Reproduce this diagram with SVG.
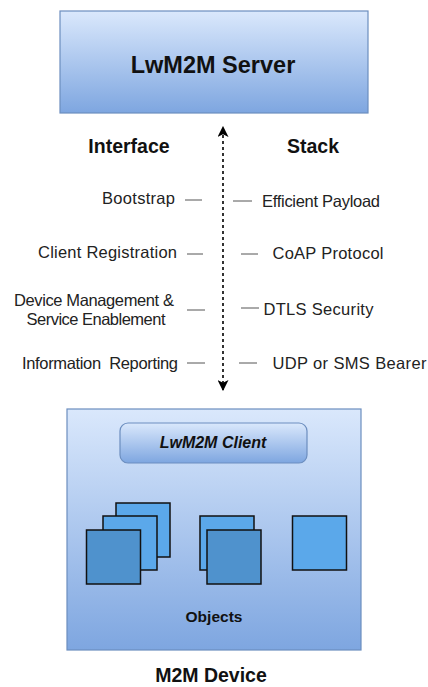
<svg xmlns="http://www.w3.org/2000/svg" width="428" height="687" viewBox="0 0 428 687">
<defs>
<linearGradient id="g" x1="0" y1="0" x2="0" y2="1">
<stop offset="0" stop-color="#dae8fc"/>
<stop offset="1" stop-color="#7ea6e0"/>
</linearGradient>
<marker id="ah" viewBox="0 0 10 10" refX="9" refY="5" markerWidth="11" markerHeight="11" markerUnits="userSpaceOnUse" orient="auto-start-reverse">
<path d="M0,0 L10,5 L0,10 L2.5,5 Z" fill="#000"/>
</marker>
<style>
.box{fill:url(#g);stroke:#6c8ebf;stroke-width:1.2}
.t{font-family:"Liberation Sans",Arial,sans-serif;fill:#111}
.b{font-weight:bold}
.lbl{font-size:16.5px;fill:#222}
.dash{stroke:#555;stroke-width:1}
.sq1{fill:#5ba8ea;stroke:#111;stroke-width:1.5}
.sq2{fill:#4f92cd;stroke:#111;stroke-width:1.5}
</style>
</defs>
<rect width="428" height="687" fill="#fff"/>

<g id="server">
<rect class="box" x="60" y="11" width="308" height="102"/>
<text class="t b" x="213" y="72.5" font-size="23.5" text-anchor="middle">LwM2M Server</text>
</g>

<g id="headings">
<text class="t b" x="129" y="153" font-size="19.5" text-anchor="middle">Interface</text>
<text class="t b" x="313" y="153" font-size="19.5" text-anchor="middle">Stack</text>
</g>

<g id="connectors">
<line x1="223" y1="390" x2="223" y2="127" stroke="#000" stroke-width="1.6" stroke-dasharray="3,3" marker-start="url(#ah)" marker-end="url(#ah)"/>
<line class="dash" x1="185" y1="200" x2="202" y2="200"/>
<line class="dash" x1="233" y1="201" x2="252" y2="201"/>
<line class="dash" x1="187" y1="254" x2="203" y2="254"/>
<line class="dash" x1="241" y1="254" x2="258" y2="254"/>
<line class="dash" x1="187" y1="310" x2="205" y2="310"/>
<line class="dash" x1="241" y1="308" x2="259" y2="308"/>
<line class="dash" x1="187" y1="363" x2="205" y2="363"/>
<line class="dash" x1="239" y1="363" x2="257" y2="363"/>
</g>

<g id="interface-labels">
<text class="t lbl" x="175" y="204" text-anchor="end" textLength="73">Bootstrap</text>
<text class="t lbl" x="177" y="258" text-anchor="end" textLength="139">Client Registration</text>
<text class="t lbl" x="94" y="306" text-anchor="middle" textLength="160">Device Management &amp;</text>
<text class="t lbl" x="96" y="325" text-anchor="middle" textLength="139">Service Enablement</text>
<text class="t lbl" x="178" y="369" text-anchor="end" textLength="156" xml:space="preserve">Information  Reporting</text>
</g>

<g id="stack-labels">
<text class="t lbl" x="262" y="207" textLength="118">Efficient Payload</text>
<text class="t lbl" x="272.5" y="259" textLength="111">CoAP Protocol</text>
<text class="t lbl" x="263.5" y="315" textLength="110">DTLS Security</text>
<text class="t lbl" x="272.5" y="369" textLength="154">UDP or SMS Bearer</text>
</g>

<g id="device">
<rect class="box" x="67" y="409" width="294" height="241"/>
<text class="t b" x="214" y="622" font-size="15.5" text-anchor="middle">Objects</text>
</g>

<g id="client">
<rect class="box" x="120" y="423" width="187" height="40" rx="8"/>
<text class="t b" x="213" y="448" font-size="16" font-style="italic" text-anchor="middle">LwM2M Client</text>
</g>

<g id="objects-multi">
<rect class="sq1" x="116" y="503" width="54" height="54"/>
<rect class="sq1" x="103" y="516" width="54" height="54"/>
<rect class="sq2" x="86.5" y="530" width="54" height="54"/>
</g>
<g id="objects-pair">
<rect class="sq1" x="200" y="516" width="54" height="54"/>
<rect class="sq2" x="207" y="530" width="54" height="54"/>
</g>
<g id="object-single">
<rect class="sq1" x="292.5" y="516" width="54" height="54"/>
</g>

<g id="device-label">
<text class="t b" x="211" y="682" font-size="19.5" text-anchor="middle">M2M Device</text>
</g>
</svg>
